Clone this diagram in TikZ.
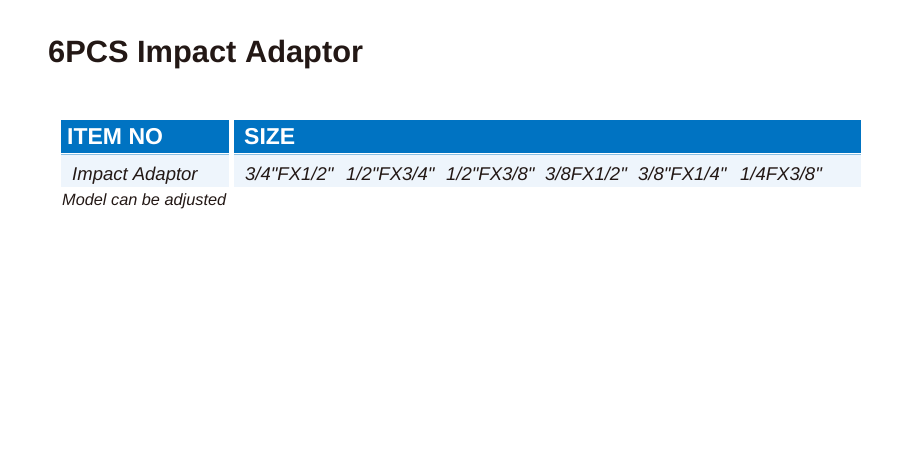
\documentclass[tikz,border=0pt]{standalone}
\usepackage{fontspec}
\setmainfont{Liberation Sans}
\usetikzlibrary{positioning}
\definecolor{headblue}{HTML}{0073C2}
\definecolor{rowblue}{HTML}{EEF5FC}
\definecolor{inkdark}{HTML}{231815}
\newcommand{\inch}{\textquotedbl}

\begin{document}
\begin{tikzpicture}[x=1pt, y=-1pt,
    headbar/.style={fill=headblue, draw=none, minimum height=33pt, inner sep=0pt, anchor=north west},
    rowbar/.style={fill=rowblue, draw=none, minimum height=33pt, inner sep=0pt, anchor=north west},
    headtext/.style={text=white, font=\fontsize{23}{26}\selectfont\bfseries, anchor=base west, inner sep=0pt},
    celltext/.style={text=inkdark, font=\fontsize{18.5}{21}\selectfont\itshape, anchor=base west, inner sep=0pt}]
    \useasboundingbox[fill=white] (0,0) rectangle (921,450);
    % title
    \node[text=inkdark, font=\fontsize{30.8}{34}\selectfont\bfseries, anchor=base west, inner sep=0pt] (title) at (48,62) {6PCS Impact Adaptor};
    % header row
    \node[headbar, minimum width=168pt] (itembar) at (61,120) {};
    \node[headbar, minimum width=627pt] (sizebar) at (234,120) {};
    \node[headtext] (itemhead) at (67,144) {ITEM NO};
    \node[headtext] (sizehead) at (244,144) {SIZE};
    % data row
    \node[rowbar, minimum width=168pt] (itemcell) at (61,154) {};
    \node[rowbar, minimum width=627pt] (sizecell) at (234,154) {};
    \draw[headblue!45, line width=1pt] (itemcell.north west) -- (itemcell.north east);
    \draw[headblue!45, line width=1pt] (sizecell.north west) -- (sizecell.north east);
    \node[celltext] (itemname) at (72,180) {Impact Adaptor};
    \foreach \xx/\sz [count=\i] in {245/{3/4\inch FX1/2\inch}, 346/{1/2\inch FX3/4\inch}, 446/{1/2\inch FX3/8\inch},
        545/{3/8FX1/2\inch}, 638/{3/8\inch FX1/4\inch}, 740/{1/4FX3/8\inch}}{
      \node[celltext] (size\i) at (\xx,180) {\sz};
    }
    % note
    \node[text=inkdark, font=\fontsize{16.3}{19}\selectfont\itshape, anchor=base west, inner sep=0pt] (note) at (62,205) {Model can be adjusted};
\end{tikzpicture}
\end{document}
